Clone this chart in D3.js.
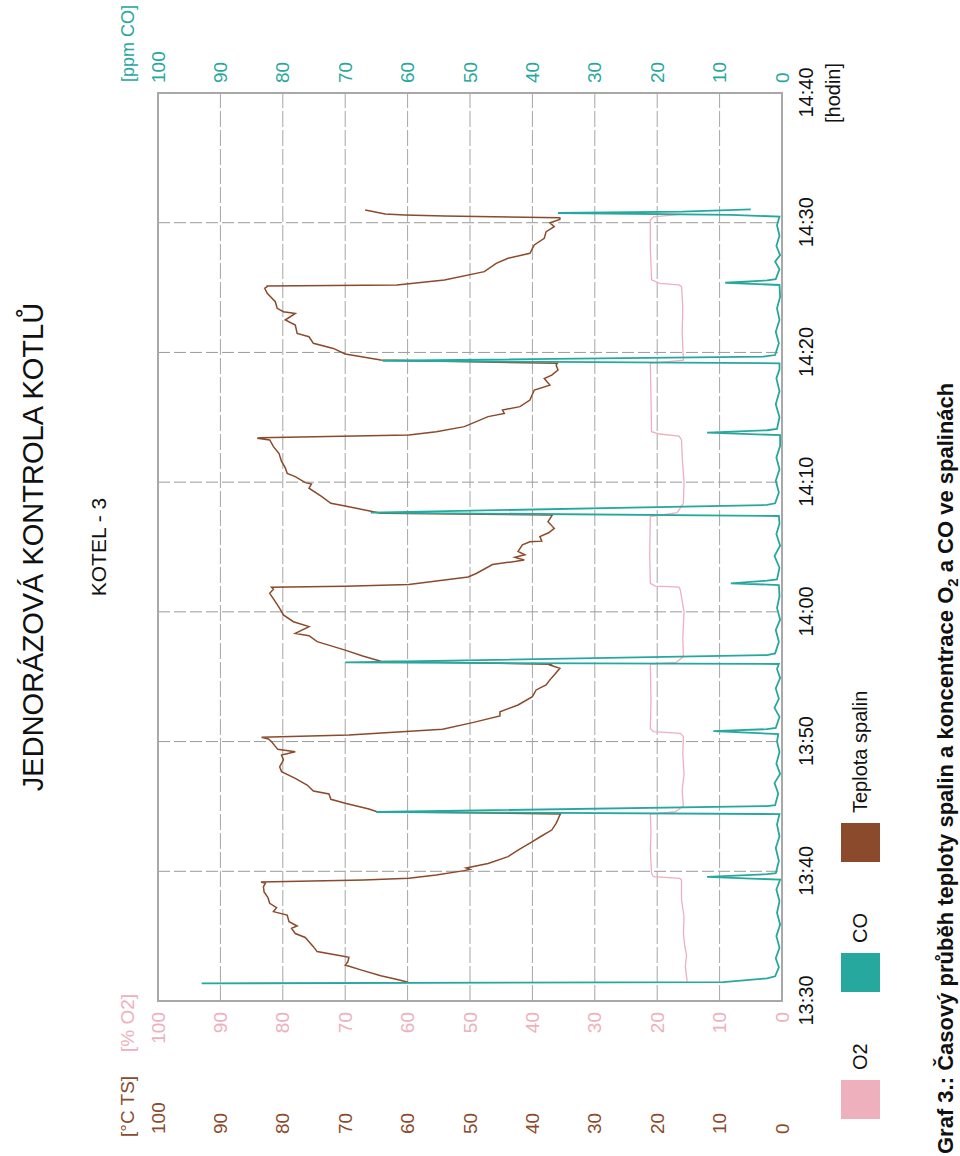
<!DOCTYPE html>
<html>
<head>
<meta charset="utf-8">
<script src="https://cdn.jsdelivr.net/npm/d3@7"></script>
<style>
  body { margin: 0; background: #fff; }
  svg { display: block; }
  text { font-family: "Liberation Sans", Arial, sans-serif; }
</style>
</head>
<body>
<script>
// Page size
const width = 960, height = 1156;

// Data: [minutes after 13:30, value]
const tsData = [
  [1.44,59.9],[1.7,62.0],[1.94,64.3],[2.4,67.5],[2.77,70.0],[3.0,69.6],[3.37,69.4],[3.47,70.5],[3.81,74.5],[4.19,75.1],[4.57,75.8],[4.9,76.4],[5.2,78.0],[5.6,78.6],[5.78,77.7],[6.11,79.0],[6.63,79.3],[6.89,81.5],[7.2,81.0],[7.53,82.1],[8.0,82.4],[8.4,83.0],[8.81,83.1],[9.07,82.8],[9.18,83.5],
  [9.33,67.0],[9.46,59.8],[9.72,55.4],[10.05,50.9],[10.15,50.0],[10.25,50.6],[10.6,47.1],[11.13,43.9],[11.64,42.3],[12.28,40.0],[12.7,38.6],[13.18,36.9],[13.7,36.2],[14.0,35.9],[14.34,35.6],
  [14.42,35.5],[14.59,64.9],[14.8,66.2],[15.24,70.0],[15.55,72.3],[15.96,72.6],[16.19,75.1],[16.65,76.1],[17.16,78.0],[17.68,80.2],[18.06,80.5],[18.58,79.9],[18.96,80.2],[19.22,78.0],[19.4,80.8],[19.99,81.8],[20.2,82.3],[20.33,83.4],
  [20.51,69.4],[20.95,54.4],[21.46,49.6],[21.97,45.2],[22.3,45.2],[22.82,42.3],[23.46,40.0],[23.98,39.4],[24.36,37.8],[24.7,37.3],[25.13,36.5],[25.65,35.6],[25.9,37.2],
  [25.96,37.0],[26.2,64.3],[26.6,67.2],[27.05,70.0],[27.7,74.5],[28.16,75.8],[28.34,78.0],[28.86,75.8],[29.24,78.3],[29.76,79.9],[30.27,80.5],[30.79,81.2],[31.43,82.1],[31.74,81.5],[31.89,81.8],
  [31.97,70.0],[32.1,59.8],[32.69,50.3],[32.96,49.0],[33.65,46.4],[33.9,42.6],[34.0,41.3],[34.2,42.8],[34.4,41.2],[34.66,42.3],[35.17,41.6],[35.4,40.4],[35.45,38.5],[35.8,38.8],[36.1,37.4],[36.44,36.5],[36.95,37.5],[37.4,36.9],
  [37.47,36.8],[37.6,64.3],[38.16,70.0],[38.37,72.3],[38.9,73.8],[39.53,75.8],[39.86,75.4],[39.96,76.4],[40.43,78.0],[40.68,79.3],[41.1,79.6],[41.6,80.2],[42.2,80.6],[42.74,81.5],[43.25,82.1],[43.38,84.1],
  [43.43,83.6],[43.63,59.8],[43.89,55.4],[44.28,50.9],[45.05,47.1],[45.3,44.5],[45.56,44.8],[45.82,42.0],[46.33,40.4],[47.1,39.7],[47.48,37.2],[47.99,38.1],[48.25,36.9],[48.64,35.9],[49.02,36.2],
  [49.16,36.0],[49.41,64.3],[49.88,70.0],[50.31,71.9],[50.7,75.1],[51.21,75.8],[51.47,77.7],[52.11,78.0],[52.5,79.6],[53.01,78.0],[53.14,79.9],[53.4,80.9],[53.91,81.2],[54.56,82.5],[54.94,82.9],[55.07,82.5],
  [55.12,82.5],[55.2,61.7],[55.59,54.1],[56.23,47.7],[56.87,45.8],[57.26,43.9],[57.64,40.4],[58.29,39.7],[58.8,38.1],[59.31,37.8],[59.7,36.5],[60.0,37.2],[60.26,35.6],
  [60.39,35.6],[60.52,54.1],[60.6,60.5],[60.67,63.6],[60.98,66.8]
];

const coData = [
  [1.36,93],[1.45,9.4],[1.75,2.4],[1.9,1.1],[2.6,0.5],[3.3,1.0],[4.1,0.4],[5.0,0.9],[5.9,0.3],[6.8,0.8],[7.7,0.4],[8.6,0.9],
  [9.35,0.3],[9.57,12],[9.78,2.4],[9.85,1.0],[10.8,0.5],[11.8,1.0],[12.7,0.4],[13.6,0.8],
  [14.41,0.4],[14.57,65],[15.03,2.4],[15.1,1.1],[16.0,0.6],[16.8,1.2],[17.5,0.3],[18.3,0.9],[19.2,0.4],[20.0,0.8],
  [20.58,0.6],[20.8,11],[20.96,2.4],[21.05,1.0],[21.9,0.4],[22.6,1.2],[23.3,0.5],[24.1,1.0],[24.9,0.3],[25.6,0.8],
  [25.98,0.5],[26.1,70],[26.67,2.4],[26.8,1.1],[27.7,0.5],[28.6,1.0],[29.4,0.3],[30.3,0.8],[31.2,0.4],
  [32.07,0.5],[32.2,8.2],[32.41,2.4],[32.5,0.8],[33.4,0.4],[34.3,1.2],[35.1,0.3],[36.0,0.9],[36.8,0.4],
  [37.39,0.5],[37.65,65.9],[38.24,2.4],[38.37,1.1],[39.2,0.5],[40.1,1.0],[41.0,0.4],[41.9,0.9],[42.8,0.3],
  [43.63,0.3],[43.81,12],[44.0,2.4],[44.1,0.8],[45.0,0.4],[46.0,1.0],[47.0,0.4],[48.0,0.9],[48.7,0.4],
  [49.16,0.4],[49.36,64],[49.67,3.0],[49.8,1.1],[50.7,0.5],[51.6,1.0],[52.5,0.4],[53.4,0.8],[54.3,0.3],
  [55.2,0.4],[55.37,9.1],[55.55,2.4],[55.65,1.0],[56.4,0.4],[57.0,1.1],[57.5,0.3],[58.2,0.9],[59.0,0.4],[59.8,0.8],
  [60.47,0.4],[60.6,8.2],[60.75,35.9],[60.85,16],[61.03,5]
];

const o2Data = [
  [1.49,15.2],[2.65,15.5],[3.5,15.3],[4.3,15.6],[5.2,15.8],[6.5,15.7],[7.8,16.1],[9.33,16.1],[9.45,16.4],[9.58,20.6],[9.84,20.9],[11.64,21.1],[13.0,21.0],
  [14.41,21.1],[14.59,17.1],[15.03,15.8],[16.2,16.0],[17.5,15.7],[19.0,15.9],[20.38,15.8],[20.64,16.3],[20.77,20.6],[21.0,21.1],[23.0,21.0],
  [25.98,21.1],[26.1,17.0],[26.55,15.8],[28.0,15.9],[30.0,15.7],[31.69,16.3],[31.9,16.5],[31.99,20.3],[32.2,21.1],[34.5,21.2],
  [37.34,21.1],[37.65,16.8],[38.37,15.8],[40.0,15.7],[42.0,16.0],[43.25,16.1],[43.55,16.5],[43.71,19.6],[43.89,20.9],[46.5,21.0],
  [49.16,21.1],[49.41,15.8],[51.5,16.0],[53.5,15.9],[55.07,16.1],[55.2,16.5],[55.33,19.6],[55.59,20.9],[58.0,21.1],
  [60.2,21.1],[60.45,20.6],[60.65,16.3]
];

const legendItems = ["O2", "CO", "Teplota spalin"];
const colors = { ts: "#8b4a2b", co: "#27a89e", o2: "#eeb0bd" };

const svg = d3.select("body").append("svg")
    .attr("width", width)
    .attr("height", height);

// The chart is laid out in landscape and turned a quarter turn to the left
const g = svg.append("g")
    .attr("transform", `translate(0,${height}) rotate(-90)`);

const start = new Date(2000, 0, 1, 13, 30);
const toDate = m => new Date(start.getTime() + m * 60000);

const x = d3.scaleTime()
    .domain([start, new Date(2000, 0, 1, 14, 40)])
    .range([155, 1063]);

const y = d3.scaleLinear()
    .domain([0, 100])
    .range([782, 158]);

// Grid
const timeTicks = x.ticks(d3.timeMinute.every(10));
g.append("g").selectAll("line")
    .data(timeTicks.slice(1, -1))
    .enter().append("line")
    .attr("x1", d => x(d)).attr("x2", d => x(d))
    .attr("y1", y(100)).attr("y2", y(0))
    .attr("stroke", "#9a9a9a")
    .attr("stroke-dasharray", "12,4");

g.append("g").selectAll("line")
    .data(d3.range(10, 100, 10))
    .enter().append("line")
    .attr("x1", x.range()[0]).attr("x2", x.range()[1])
    .attr("y1", d => y(d)).attr("y2", d => y(d))
    .attr("stroke", "#a5a5a5")
    .attr("stroke-dasharray", "16,3");

// Frame
g.append("rect")
    .attr("x", x.range()[0]).attr("y", y(100))
    .attr("width", x.range()[1] - x.range()[0])
    .attr("height", y(0) - y(100))
    .attr("fill", "none")
    .attr("stroke", "#a8a8a8")
    .attr("stroke-width", 2);

// Lines
const line = d3.line().x(d => x(toDate(d[0]))).y(d => y(d[1]));

g.append("path").datum(o2Data)
    .attr("d", line).attr("fill", "none")
    .attr("stroke", colors.o2).attr("stroke-width", 1.3);

g.append("path").datum(tsData)
    .attr("d", line).attr("fill", "none")
    .attr("stroke", colors.ts).attr("stroke-width", 1.5);

g.append("path").datum(coData)
    .attr("d", line).attr("fill", "none")
    .attr("stroke", colors.co).attr("stroke-width", 1.8);

// Axes (labels only)
function styleAxis(sel, color, size) {
    sel.select(".domain").remove();
    sel.selectAll(".tick line").remove();
    sel.selectAll("text")
        .attr("fill", color)
        .style("font-size", size + "px")
        .style("font-family", "'Liberation Sans', Arial, sans-serif");
}

g.append("g")
    .attr("transform", `translate(0,${y(0)})`)
    .call(d3.axisBottom(x).ticks(d3.timeMinute.every(10)).tickFormat(d3.timeFormat("%H:%M")).tickSize(0).tickPadding(17))
    .call(s => styleAxis(s, "#111", 20));

g.append("g")
    .attr("transform", "translate(147,0)")
    .call(d3.axisLeft(y).ticks(10).tickSize(0).tickPadding(3))
    .call(s => styleAxis(s, colors.o2, 19));

g.append("g")
    .attr("transform", "translate(19,0)")
    .call(d3.axisRight(y).ticks(10).tickSize(0).tickPadding(3))
    .call(s => styleAxis(s, colors.ts, 19));

g.append("g")
    .attr("transform", "translate(1070,0)")
    .call(d3.axisRight(y).ticks(10).tickSize(0).tickPadding(3))
    .call(s => styleAxis(s, colors.co, 19));

// Unit labels
g.append("text").attr("x", 104).attr("y", 134)
    .attr("fill", colors.o2).style("font-size", "19px").text("[% O2]");
g.append("text").attr("x", 19).attr("y", 134)
    .attr("fill", colors.ts).style("font-size", "19px").text("[°C TS]");
g.append("text").attr("x", 1074).attr("y", 134)
    .attr("fill", colors.co).style("font-size", "18px").text("[ppm CO]");
g.append("text").attr("x", x.range()[1]).attr("y", 840)
    .attr("text-anchor", "middle").attr("fill", "#111")
    .style("font-size", "20px").text("[hodin]");

// Titles
g.append("text").attr("x", 609).attr("y", 43)
    .attr("text-anchor", "middle").attr("fill", "#111")
    .style("font-size", "29px").text("JEDNORÁZOVÁ KONTROLA KOTLŮ");
g.append("text").attr("x", 609).attr("y", 106)
    .attr("text-anchor", "middle").attr("fill", "#111")
    .style("font-size", "21px").text("KOTEL - 3");

// Legend
const legendX = [37, 164, 294];
const legendColors = [colors.o2, colors.co, colors.ts];
const lg = g.append("g").selectAll("g")
    .data(legendItems)
    .enter().append("g")
    .attr("transform", (d, i) => `translate(${legendX[i]},841)`);
lg.append("rect")
    .attr("width", 39).attr("height", 39)
    .attr("fill", (d, i) => legendColors[i]);
lg.append("text")
    .attr("x", 49).attr("y", 26)
    .attr("fill", "#111")
    .style("font-size", "20px")
    .text(d => d);

// Caption
const cap = g.append("text").attr("x", 2).attr("y", 953)
    .attr("fill", "#111")
    .style("font-size", "22px").style("font-weight", "bold");
cap.append("tspan").text("Graf 3.: Časový průběh teploty spalin a koncentrace O");
cap.append("tspan").attr("dy", 5).style("font-size", "15px").text("2");
cap.append("tspan").attr("dy", -5).text(" a CO ve spalinách");
</script>
</body>
</html>
